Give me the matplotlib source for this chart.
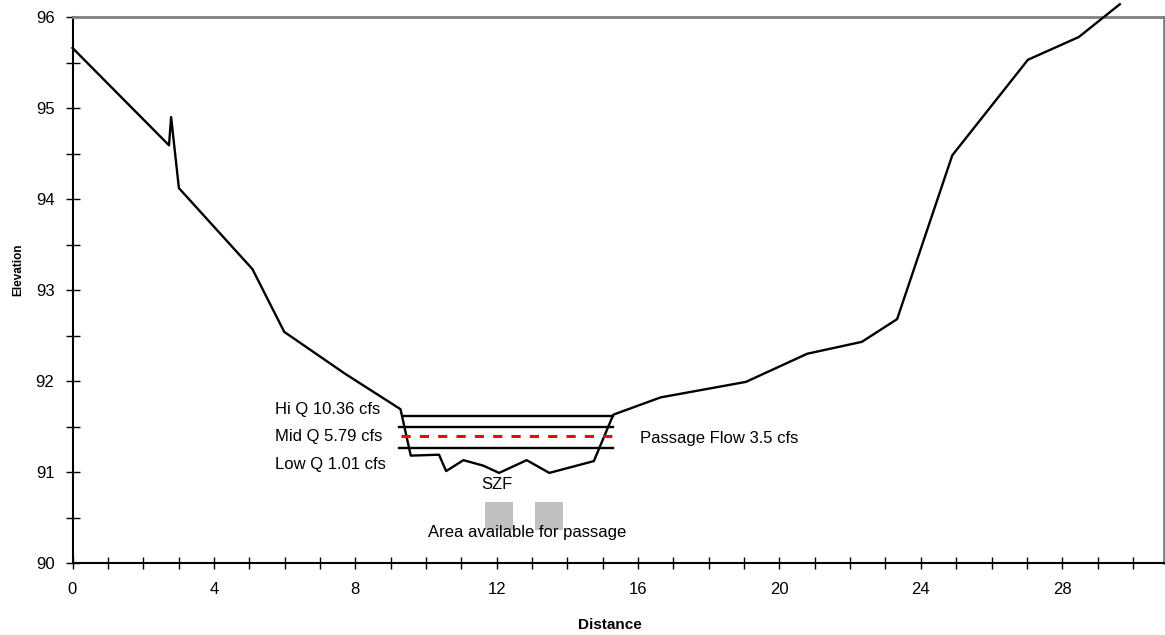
import matplotlib
matplotlib.use("Agg")
import matplotlib.pyplot as plt
import matplotlib.patches as patches
from matplotlib.ticker import MultipleLocator

plt.rcParams['font.family'] = ['Liberation Sans', 'DejaVu Sans']

# channel cross-section profile
distance = [0.0, 2.73, 2.79, 3.01, 5.09, 5.99, 7.71, 9.28, 9.57, 10.37, 10.57,
            11.06, 11.62, 12.07, 12.85, 13.49, 14.75, 15.30, 16.64, 19.05,
            20.79, 22.33, 23.33, 24.89, 27.03, 28.47, 29.63]
elevation = [95.66, 94.59, 94.90, 94.12, 93.23, 92.54, 92.08, 91.69, 91.18, 91.19, 91.01,
             91.13, 91.07, 90.99, 91.13, 90.99, 91.12, 91.63, 91.82, 91.99,
             92.30, 92.43, 92.68, 94.48, 95.53, 95.78, 96.14]

# water surface levels: (elevation, x start, x end)
hi_q = (91.61, 9.35, 15.28)
mid_q = (91.49, 9.24, 15.29)
passage_q = (91.40, 9.30, 15.28)
low_q = (91.26, 9.24, 15.29)

# areas available for passage (x0, x1, y0, y1)
passage_areas = [(11.67, 12.46, 90.36, 90.67), (13.08, 13.88, 90.36, 90.67)]

fig = plt.figure(figsize=(11.65, 6.35), dpi=100)
ax = fig.add_axes([72.5 / 1165, 1 - 563 / 635, (1164 - 72.5) / 1165, (563 - 17) / 635])

ax.plot(distance, elevation, color='black', lw=1.7, clip_on=False, zorder=3)

for lev in (hi_q, mid_q, low_q):
    ax.plot([lev[1], lev[2]], [lev[0], lev[0]], color='black', lw=1.7)
ax.plot([passage_q[1], passage_q[2]], [passage_q[0], passage_q[0]], color='red',
        lw=2.2, linestyle=(0, (3, 3)), zorder=4)

for x0, x1, y0, y1 in passage_areas:
    ax.add_patch(patches.Rectangle((x0, y0), x1 - x0, y1 - y0, facecolor='#c0c0c0',
                                   edgecolor='none'))

fs = 12
ax.text(5.73, 91.69, 'Hi Q 10.36 cfs', fontsize=fs, va='center', ha='left')
ax.text(5.73, 91.39, 'Mid Q 5.79 cfs', fontsize=fs, va='center', ha='left')
ax.text(5.73, 91.08, 'Low Q 1.01 cfs', fontsize=fs, va='center', ha='left')
ax.text(16.05, 91.37, 'Passage Flow 3.5 cfs', fontsize=fs, va='center', ha='left')
ax.text(12.02, 90.86, 'SZF', fontsize=fs, va='center', ha='center')
ax.text(12.85, 90.33, 'Area available for passage', fontsize=fs, va='center', ha='center')

ax.set_xlim(0, 30.88)
ax.set_ylim(90, 96)
ax.xaxis.set_major_locator(MultipleLocator(4))
ax.xaxis.set_minor_locator(MultipleLocator(1))
ax.yaxis.set_major_locator(MultipleLocator(1))
ax.yaxis.set_minor_locator(MultipleLocator(0.5))
ax.tick_params(axis='x', which='both', direction='inout', length=9, width=1, labelsize=fs, pad=9)
ax.tick_params(axis='y', which='both', direction='inout', length=10, width=1, labelsize=fs, pad=8)

for s in ('left', 'bottom'):
    ax.spines[s].set_color('black')
    ax.spines[s].set_linewidth(1.5)
for s in ('top', 'right'):
    ax.spines[s].set_color('#808080')
    ax.spines[s].set_linewidth(2)

fig.text(610 / 1165, 1 - 625 / 635, 'Distance', fontsize=11, fontweight='bold',
         ha='center', va='center')
fig.text(18 / 1165, 1 - 270 / 635, 'Elevation', fontsize=8.5, fontweight='bold',
         ha='center', va='center', rotation=90)

fig.savefig('out.png', dpi=100)
